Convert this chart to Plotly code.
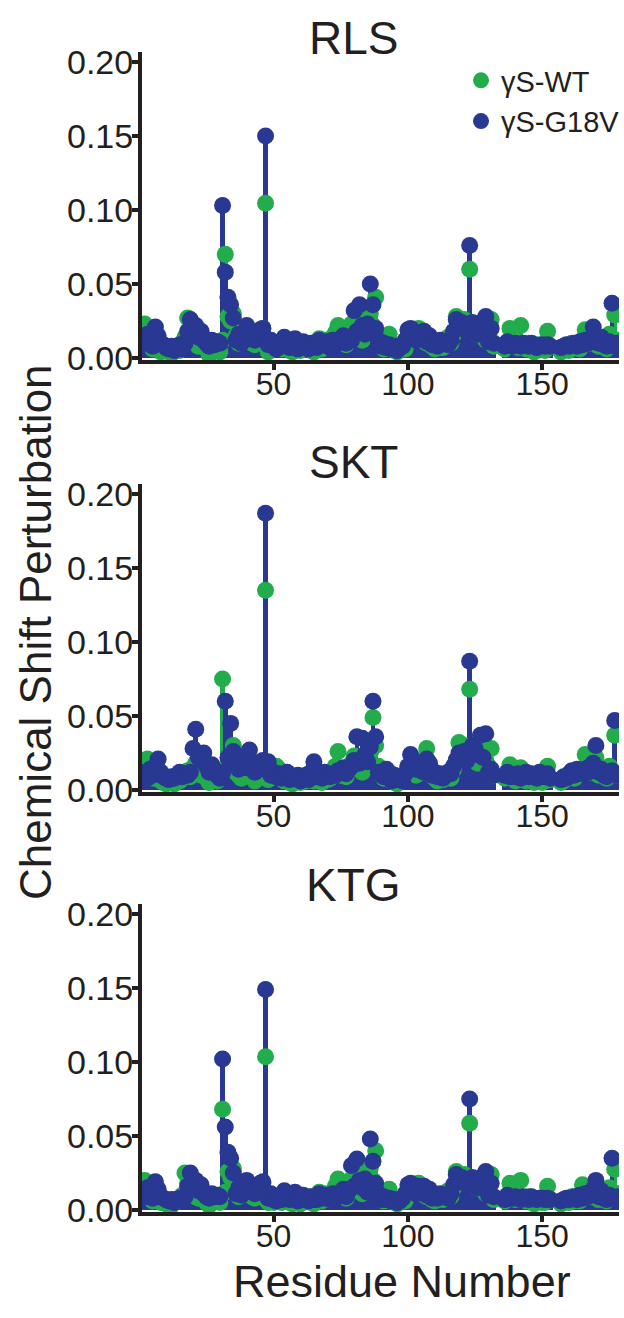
import plotly.graph_objects as go

# Chemical shift perturbation per residue (1-178); None = residue not assigned
rls_wt = [
    0.016, 0.023, 0.019, 0.009, 0.006, 0.012, 0.008, 0.004, 0.006, 0.005,
    0.004, 0.003, 0.006, 0.007, 0.005, 0.009, 0.014, 0.027, 0.016, 0.012,
    0.010, 0.008, 0.013, 0.009, 0.006, 0.002, 0.008, 0.010, 0.007, 0.004,
    0.012, 0.070, 0.028, 0.025, 0.030, 0.015, 0.010, 0.012, 0.016, 0.018,
    0.014, 0.010, 0.009, 0.011, 0.016, 0.020, 0.1045, 0.004, 0.007, 0.006,
    0.010, 0.008, 0.006, 0.012, 0.007, 0.005, 0.004, 0.006, 0.009, 0.005,
    0.008, 0.006, 0.010, 0.007, 0.004, 0.009, 0.013, 0.006, 0.012, 0.008,
    0.010, 0.014, 0.017, 0.022, 0.012, 0.016, 0.009, 0.018, 0.023, 0.020,
    0.028, 0.025, 0.012, 0.015, 0.020, 0.030, 0.022, 0.041, 0.014, 0.010,
    0.006, 0.012, 0.016, 0.008, 0.005, 0.004, 0.007, 0.009, 0.006, 0.014,
    0.018, 0.013, 0.016, 0.020, 0.012, 0.015, 0.010, 0.013, 0.008, 0.006,
    0.010, 0.009, 0.007, 0.012, 0.014, 0.010, 0.016, 0.028, 0.024, 0.022,
    0.026, 0.019, 0.060, 0.022, 0.018, 0.016, 0.020, 0.023, 0.012, 0.014,
    0.026, 0.008, None, None, None, 0.006, 0.010, 0.020, 0.012, 0.008,
    0.007, 0.022, 0.009, 0.006, 0.010, 0.008, 0.004, 0.007, 0.009, 0.006,
    0.005, 0.018, 0.008, None, None, None, 0.004, 0.006, 0.008, 0.005,
    0.010, 0.007, 0.009, 0.006, 0.011, 0.019, 0.014, 0.010, 0.016, 0.012,
    0.008, 0.012, 0.010, 0.006, 0.016, 0.010, 0.029, 0.012,
]
rls_g18v = [
    0.014, 0.010, 0.016, 0.012, 0.008, 0.021, 0.015, 0.010, 0.009, 0.007,
    0.006, 0.008, 0.005, 0.007, 0.009, 0.006, 0.010, 0.018, 0.026, 0.016,
    0.022, 0.014, 0.018, 0.012, 0.010, 0.008, 0.012, 0.009, 0.011, 0.010,
    0.103, 0.058, 0.041, 0.036, 0.027, 0.012, 0.016, 0.010, 0.014, 0.022,
    0.018, 0.014, 0.012, 0.016, 0.019, 0.020, 0.150, 0.009, 0.012, 0.008,
    0.006, 0.010, 0.008, 0.014, 0.010, 0.007, 0.009, 0.013, 0.006, 0.008,
    0.011, 0.009, 0.006, 0.010, 0.008, 0.007, 0.012, 0.009, 0.010, 0.011,
    0.007, 0.012, 0.009, 0.011, 0.013, 0.015, 0.010, 0.014, 0.012, 0.032,
    0.018, 0.036, 0.022, 0.016, 0.023, 0.050, 0.036, 0.020, 0.012, 0.008,
    0.010, 0.007, 0.009, 0.006, 0.008, 0.005, 0.007, 0.008, 0.012, 0.019,
    0.020, 0.015, 0.012, 0.017, 0.014, 0.018, 0.011, 0.015, 0.009, 0.010,
    0.008, 0.012, 0.010, 0.011, 0.009, 0.012, 0.018, 0.026, 0.022, 0.024,
    0.020, 0.018, 0.076, 0.024, 0.020, 0.016, 0.022, 0.025, 0.028, 0.011,
    0.020, 0.010, None, None, None, 0.008, 0.011, 0.009, 0.008, 0.010,
    0.009, 0.008, 0.010, 0.009, 0.008, 0.010, 0.009, 0.007, 0.008, 0.009,
    0.008, 0.009, 0.008, None, None, None, 0.007, 0.008, 0.009, 0.008,
    0.009, 0.010, 0.008, 0.011, 0.009, 0.012, 0.010, 0.013, 0.021, 0.012,
    0.010, 0.014, 0.009, 0.008, 0.011, 0.037, 0.008, 0.010,
]

skt_wt = [
    0.015, 0.018, 0.021, 0.012, 0.008, 0.010, 0.014, 0.006, 0.005, 0.004,
    0.006, 0.005, 0.004, 0.007, 0.006, 0.008, 0.010, 0.013, 0.009, 0.015,
    0.018, 0.012, 0.010, 0.016, 0.008, 0.005, 0.010, 0.007, 0.006, 0.009,
    0.075, 0.014, 0.018, 0.016, 0.030, 0.012, 0.010, 0.008, 0.013, 0.015,
    0.012, 0.009, 0.006, 0.010, 0.014, 0.016, 0.135, 0.007, 0.012, 0.010,
    0.016, 0.014, 0.008, 0.006, 0.010, 0.005, 0.004, 0.006, 0.008, 0.005,
    0.007, 0.006, 0.009, 0.012, 0.006, 0.008, 0.010, 0.005, 0.011, 0.007,
    0.008, 0.012, 0.016, 0.026, 0.010, 0.013, 0.009, 0.015, 0.018, 0.023,
    0.020, 0.017, 0.012, 0.014, 0.022, 0.025, 0.049, 0.030, 0.016, 0.010,
    0.008, 0.010, 0.012, 0.006, 0.005, 0.004, 0.006, 0.008, 0.010, 0.015,
    0.014, 0.012, 0.010, 0.016, 0.020, 0.012, 0.028, 0.018, 0.010, 0.008,
    0.006, 0.009, 0.007, 0.010, 0.012, 0.008, 0.014, 0.020, 0.032, 0.026,
    0.030, 0.024, 0.068, 0.026, 0.020, 0.018, 0.030, 0.024, 0.020, 0.016,
    0.028, 0.010, None, None, None, 0.008, 0.012, 0.017, 0.010, 0.006,
    0.008, 0.015, 0.007, 0.006, 0.009, 0.007, 0.005, 0.006, 0.008, 0.005,
    0.006, 0.016, 0.007, None, None, None, 0.005, 0.006, 0.008, 0.010,
    0.012, 0.008, 0.010, 0.014, 0.012, 0.024, 0.018, 0.012, 0.020, 0.022,
    0.010, 0.014, 0.012, 0.008, 0.016, 0.012, 0.037, 0.010,
]
skt_g18v = [
    0.010, 0.012, 0.008, 0.014, 0.010, 0.016, 0.021, 0.012, 0.009, 0.008,
    0.007, 0.009, 0.008, 0.010, 0.012, 0.009, 0.011, 0.010, 0.012, 0.028,
    0.041, 0.022, 0.020, 0.025, 0.016, 0.012, 0.017, 0.013, 0.010, 0.008,
    0.012, 0.060, 0.022, 0.045, 0.026, 0.018, 0.014, 0.016, 0.020, 0.015,
    0.027, 0.016, 0.012, 0.018, 0.014, 0.020, 0.187, 0.019, 0.010, 0.012,
    0.009, 0.011, 0.008, 0.010, 0.012, 0.007, 0.009, 0.008, 0.010, 0.006,
    0.008, 0.010, 0.007, 0.012, 0.019, 0.009, 0.011, 0.008, 0.012, 0.010,
    0.009, 0.011, 0.010, 0.013, 0.012, 0.015, 0.011, 0.014, 0.016, 0.020,
    0.036, 0.018, 0.035, 0.024, 0.019, 0.029, 0.060, 0.036, 0.012, 0.010,
    0.009, 0.014, 0.008, 0.006, 0.010, 0.007, 0.008, 0.006, 0.011, 0.016,
    0.024, 0.018, 0.014, 0.016, 0.013, 0.012, 0.021, 0.018, 0.010, 0.012,
    0.009, 0.011, 0.008, 0.010, 0.012, 0.011, 0.016, 0.020, 0.025, 0.022,
    0.026, 0.020, 0.087, 0.030, 0.028, 0.024, 0.037, 0.022, 0.038, 0.012,
    0.014, 0.010, None, None, None, 0.010, 0.012, 0.009, 0.010, 0.009,
    0.011, 0.008, 0.010, 0.012, 0.009, 0.011, 0.010, 0.008, 0.012, 0.010,
    0.009, 0.011, 0.008, None, None, None, 0.007, 0.009, 0.008, 0.011,
    0.013, 0.010, 0.014, 0.012, 0.011, 0.014, 0.012, 0.016, 0.018, 0.030,
    0.012, 0.014, 0.010, 0.009, 0.011, 0.013, 0.047, 0.010,
]

ktg_wt = [
    0.014, 0.020, 0.017, 0.010, 0.006, 0.011, 0.008, 0.005, 0.006, 0.004,
    0.005, 0.003, 0.005, 0.007, 0.006, 0.010, 0.025, 0.018, 0.014, 0.011,
    0.009, 0.008, 0.012, 0.008, 0.005, 0.003, 0.007, 0.009, 0.006, 0.005,
    0.068, 0.012, 0.026, 0.022, 0.028, 0.014, 0.009, 0.011, 0.015, 0.016,
    0.012, 0.009, 0.008, 0.010, 0.014, 0.018, 0.1036, 0.005, 0.006, 0.005,
    0.009, 0.007, 0.005, 0.011, 0.006, 0.005, 0.004, 0.006, 0.008, 0.004,
    0.007, 0.006, 0.009, 0.006, 0.004, 0.008, 0.012, 0.006, 0.011, 0.007,
    0.009, 0.012, 0.016, 0.021, 0.011, 0.015, 0.008, 0.016, 0.021, 0.018,
    0.026, 0.022, 0.011, 0.014, 0.018, 0.028, 0.020, 0.040, 0.013, 0.009,
    0.006, 0.011, 0.014, 0.007, 0.005, 0.004, 0.006, 0.008, 0.006, 0.013,
    0.016, 0.012, 0.015, 0.018, 0.011, 0.014, 0.009, 0.012, 0.007, 0.006,
    0.009, 0.008, 0.007, 0.011, 0.013, 0.009, 0.015, 0.026, 0.022, 0.020,
    0.024, 0.018, 0.0586, 0.020, 0.017, 0.015, 0.018, 0.022, 0.011, 0.013,
    0.024, 0.007, None, None, None, 0.006, 0.009, 0.018, 0.011, 0.007,
    0.007, 0.020, 0.008, 0.006, 0.009, 0.007, 0.004, 0.006, 0.008, 0.005,
    0.005, 0.016, 0.007, None, None, None, 0.004, 0.005, 0.007, 0.005,
    0.009, 0.006, 0.008, 0.006, 0.017, 0.012, 0.013, 0.009, 0.014, 0.011,
    0.007, 0.011, 0.009, 0.006, 0.015, 0.009, 0.0275, 0.011,
]
ktg_g18v = [
    0.013, 0.009, 0.015, 0.011, 0.008, 0.019, 0.014, 0.009, 0.008, 0.007,
    0.006, 0.007, 0.005, 0.007, 0.008, 0.006, 0.009, 0.016, 0.025, 0.015,
    0.020, 0.013, 0.017, 0.011, 0.009, 0.008, 0.011, 0.009, 0.010, 0.009,
    0.102, 0.056, 0.039, 0.035, 0.025, 0.011, 0.015, 0.010, 0.013, 0.020,
    0.017, 0.013, 0.011, 0.015, 0.018, 0.019, 0.149, 0.008, 0.011, 0.007,
    0.006, 0.009, 0.007, 0.013, 0.009, 0.007, 0.008, 0.012, 0.006, 0.007,
    0.010, 0.008, 0.006, 0.009, 0.007, 0.007, 0.011, 0.008, 0.009, 0.010,
    0.007, 0.011, 0.008, 0.010, 0.012, 0.014, 0.009, 0.013, 0.030, 0.016,
    0.0345, 0.020, 0.015, 0.021, 0.012, 0.048, 0.033, 0.018, 0.011, 0.007,
    0.009, 0.007, 0.008, 0.006, 0.007, 0.005, 0.006, 0.008, 0.011, 0.017,
    0.018, 0.014, 0.011, 0.016, 0.013, 0.016, 0.010, 0.014, 0.008, 0.009,
    0.008, 0.011, 0.009, 0.010, 0.008, 0.011, 0.017, 0.024, 0.020, 0.022,
    0.019, 0.017, 0.075, 0.022, 0.019, 0.015, 0.020, 0.023, 0.026, 0.010,
    0.018, 0.009, None, None, None, 0.007, 0.010, 0.008, 0.008, 0.009,
    0.008, 0.007, 0.009, 0.008, 0.007, 0.009, 0.008, 0.007, 0.008, 0.008,
    0.007, 0.008, 0.007, None, None, None, 0.006, 0.007, 0.008, 0.007,
    0.008, 0.009, 0.007, 0.010, 0.008, 0.011, 0.009, 0.012, 0.014, 0.020,
    0.009, 0.013, 0.008, 0.007, 0.010, 0.035, 0.007, 0.009,
]

panel_titles = ["RLS", "SKT", "KTG"]
panel_data = [(rls_wt, rls_g18v), (skt_wt, skt_g18v), (ktg_wt, ktg_g18v)]
series_names = ["\u03b3S-WT", "\u03b3S-G18V"]
y_ticks = [0.0, 0.05, 0.10, 0.15, 0.20]
x_ticks = [50, 100, 150]

GREEN = "#22AC4B"
BLUE = "#293892"
INK = "#231F20"
FONT = "Liberation Sans, Arial, Helvetica, sans-serif"

W, H = 624, 1318
ML, MR = 142, 5
# vertical pixel extent (top, bottom) of each panel's plotting area
panel_px = [(51.6, 360.2), (483.6, 792.2), (903.6, 1212.2)]
title_px = [38, 462, 885]

fig = go.Figure()


def points(vals):
    xs = [i + 1 for i, v in enumerate(vals) if v is not None]
    ys = [v for v in vals if v is not None]
    return xs, ys


for p, (wt, mut) in enumerate(panel_data):
    ax = "" if p == 0 else str(p + 1)
    xa, ya = "x" + ax, "y" + ax
    # stems
    for vals, col in ((wt, GREEN), (mut, BLUE)):
        xs, ys = points(vals)
        fig.add_trace(go.Bar(x=xs, y=ys, width=1.7, marker=dict(color=col, line=dict(width=0)),
                             showlegend=False, hoverinfo="skip", xaxis=xa, yaxis=ya))
    # heads
    for vals, col, name in ((wt, GREEN, series_names[0]), (mut, BLUE, series_names[1])):
        xs, ys = points(vals)
        fig.add_trace(go.Scatter(x=xs, y=ys, mode="markers", name=name,
                                 marker=dict(color=col, size=17, line=dict(width=0)),
                                 showlegend=(p == 0), xaxis=xa, yaxis=ya))

axis_common = dict(showline=True, linewidth=4, linecolor=INK, ticks="outside",
                   ticklen=6, tickwidth=4, tickcolor=INK, showgrid=False, zeroline=False,
                   automargin=False)

layout_axes = {}
for p, (top, bot) in enumerate(panel_px):
    ax = "" if p == 0 else str(p + 1)
    dom = [(H - bot) / H, (H - top) / H]
    layout_axes["xaxis" + ax] = dict(axis_common, range=[1, 178.6], tickvals=x_ticks,
                                     anchor="y" + ax, domain=[0, 1], ticklabelstandoff=-14,
                                     tickfont=dict(family=FONT, size=32, color=INK))
    layout_axes["yaxis" + ax] = dict(axis_common, range=[-0.0015, 0.207], tickvals=y_ticks,
                                     tickformat=".2f", anchor="x" + ax, domain=dom,
                                     ticklabelstandoff=-8,
                                     tickfont=dict(family=FONT, size=34, color=INK))

annotations = []
for t, ypx in zip(panel_titles, title_px):
    annotations.append(dict(text=t, xref="paper", yref="paper", x=(353 - ML) / (W - ML - MR),
                            y=(H - ypx) / H, xanchor="center", yanchor="middle", showarrow=False,
                            font=dict(family=FONT, size=46, color=INK)))
annotations.append(dict(text="Chemical Shift Perturbation", xref="paper", yref="paper",
                        x=(35 - ML) / (W - ML - MR), y=(H - 632) / H, textangle=-90,
                        xanchor="center", yanchor="middle", showarrow=False,
                        font=dict(family=FONT, size=44, color=INK)))
annotations.append(dict(text="Residue Number", xref="paper", yref="paper",
                        x=(402 - ML) / (W - ML - MR), y=(H - 1281) / H,
                        xanchor="center", yanchor="middle", showarrow=False,
                        font=dict(family=FONT, size=45, color=INK)))

fig.update_layout(
    template="none",
    width=W, height=H, autosize=False,
    margin=dict(l=ML, r=MR, t=0, b=0, pad=0, autoexpand=False),
    paper_bgcolor="white", plot_bgcolor="white",
    barmode="overlay", bargap=0,
    annotations=annotations,
    legend=dict(x=(461 - ML) / (W - ML - MR), y=(H - 55) / H, xanchor="left", yanchor="top",
                font=dict(family=FONT, size=29, color=INK), itemsizing="trace",
                bgcolor="rgba(0,0,0,0)", borderwidth=0, tracegroupgap=0),
    **layout_axes,
)

fig.write_html("out.html")
